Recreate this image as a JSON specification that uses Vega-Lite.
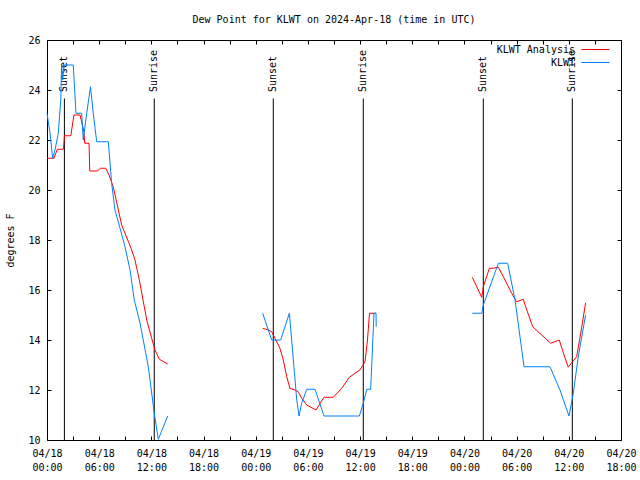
{
  "$schema": "https://vega.github.io/schema/vega-lite/v6.json",
  "autosize": "none",
  "width": 574,
  "height": 400,
  "padding": {"left": 47, "top": 40, "right": 19, "bottom": 40},
  "background": "white",
  "title": {"text": "Dew Point for KLWT on 2024-Apr-18 (time in UTC)", "font": "DejaVu Sans Mono", "fontSize": 10, "fontWeight": "normal", "color": "black", "offset": 10},
  "config": {
    "view": {"stroke": "black", "strokeWidth": 1},
    "axis": {"domain": false, "grid": false, "labelFont": "DejaVu Sans Mono", "labelFontSize": 10, "labelColor": "black", "titleFont": "DejaVu Sans Mono", "titleFontSize": 10, "titleFontWeight": "normal", "titleColor": "black", "tickColor": "black", "tickSize": 4, "tickWidth": 1, "offset": -4}
  },
  "resolve": {"axis": {"x": "independent", "y": "independent"}},
  "datasets": {
    "events": [
      {"t": "2024-04-18T02:00:00Z", "label": "Sunset"},
      {"t": "2024-04-18T12:20:00Z", "label": "Sunrise"},
      {"t": "2024-04-19T02:01:00Z", "label": "Sunset"},
      {"t": "2024-04-19T12:22:00Z", "label": "Sunrise"},
      {"t": "2024-04-20T02:10:00Z", "label": "Sunset"},
      {"t": "2024-04-20T12:24:00Z", "label": "Sunrise"}
    ],
    "obs": [
      {"t": "2024-04-18T00:00:00Z", "v": 21.27, "s": "KLWT Analysis", "g": "a1"},
      {"t": "2024-04-18T00:48:00Z", "v": 21.27, "s": "KLWT Analysis", "g": "a1"},
      {"t": "2024-04-18T01:11:00Z", "v": 21.63, "s": "KLWT Analysis", "g": "a1"},
      {"t": "2024-04-18T01:54:00Z", "v": 21.63, "s": "KLWT Analysis", "g": "a1"},
      {"t": "2024-04-18T02:00:00Z", "v": 22.17, "s": "KLWT Analysis", "g": "a1"},
      {"t": "2024-04-18T02:44:00Z", "v": 22.17, "s": "KLWT Analysis", "g": "a1"},
      {"t": "2024-04-18T03:06:00Z", "v": 23.0, "s": "KLWT Analysis", "g": "a1"},
      {"t": "2024-04-18T03:48:00Z", "v": 23.0, "s": "KLWT Analysis", "g": "a1"},
      {"t": "2024-04-18T04:15:00Z", "v": 22.33, "s": "KLWT Analysis", "g": "a1"},
      {"t": "2024-04-18T04:20:00Z", "v": 21.87, "s": "KLWT Analysis", "g": "a1"},
      {"t": "2024-04-18T04:50:00Z", "v": 21.87, "s": "KLWT Analysis", "g": "a1"},
      {"t": "2024-04-18T04:55:00Z", "v": 20.76, "s": "KLWT Analysis", "g": "a1"},
      {"t": "2024-04-18T05:47:00Z", "v": 20.76, "s": "KLWT Analysis", "g": "a1"},
      {"t": "2024-04-18T06:10:00Z", "v": 20.87, "s": "KLWT Analysis", "g": "a1"},
      {"t": "2024-04-18T06:45:00Z", "v": 20.87, "s": "KLWT Analysis", "g": "a1"},
      {"t": "2024-04-18T07:08:00Z", "v": 20.6, "s": "KLWT Analysis", "g": "a1"},
      {"t": "2024-04-18T07:37:00Z", "v": 20.13, "s": "KLWT Analysis", "g": "a1"},
      {"t": "2024-04-18T08:35:00Z", "v": 18.6, "s": "KLWT Analysis", "g": "a1"},
      {"t": "2024-04-18T09:40:00Z", "v": 17.67, "s": "KLWT Analysis", "g": "a1"},
      {"t": "2024-04-18T10:07:00Z", "v": 17.2, "s": "KLWT Analysis", "g": "a1"},
      {"t": "2024-04-18T10:37:00Z", "v": 16.4, "s": "KLWT Analysis", "g": "a1"},
      {"t": "2024-04-18T11:28:00Z", "v": 14.8, "s": "KLWT Analysis", "g": "a1"},
      {"t": "2024-04-18T12:02:00Z", "v": 14.07, "s": "KLWT Analysis", "g": "a1"},
      {"t": "2024-04-18T12:25:00Z", "v": 13.6, "s": "KLWT Analysis", "g": "a1"},
      {"t": "2024-04-18T12:55:00Z", "v": 13.23, "s": "KLWT Analysis", "g": "a1"},
      {"t": "2024-04-18T13:53:00Z", "v": 13.04, "s": "KLWT Analysis", "g": "a1"},

      {"t": "2024-04-19T00:48:00Z", "v": 14.47, "s": "KLWT Analysis", "g": "a2"},
      {"t": "2024-04-19T01:27:00Z", "v": 14.4, "s": "KLWT Analysis", "g": "a2"},
      {"t": "2024-04-19T01:50:00Z", "v": 14.33, "s": "KLWT Analysis", "g": "a2"},
      {"t": "2024-04-19T02:13:00Z", "v": 14.07, "s": "KLWT Analysis", "g": "a2"},
      {"t": "2024-04-19T02:47:00Z", "v": 13.67, "s": "KLWT Analysis", "g": "a2"},
      {"t": "2024-04-19T03:10:00Z", "v": 13.2, "s": "KLWT Analysis", "g": "a2"},
      {"t": "2024-04-19T03:34:00Z", "v": 12.53, "s": "KLWT Analysis", "g": "a2"},
      {"t": "2024-04-19T03:56:00Z", "v": 12.07, "s": "KLWT Analysis", "g": "a2"},
      {"t": "2024-04-19T04:31:00Z", "v": 12.0, "s": "KLWT Analysis", "g": "a2"},
      {"t": "2024-04-19T04:54:00Z", "v": 11.93, "s": "KLWT Analysis", "g": "a2"},
      {"t": "2024-04-19T05:17:00Z", "v": 11.67, "s": "KLWT Analysis", "g": "a2"},
      {"t": "2024-04-19T05:52:00Z", "v": 11.4, "s": "KLWT Analysis", "g": "a2"},
      {"t": "2024-04-19T06:56:00Z", "v": 11.2, "s": "KLWT Analysis", "g": "a2"},
      {"t": "2024-04-19T07:51:00Z", "v": 11.71, "s": "KLWT Analysis", "g": "a2"},
      {"t": "2024-04-19T08:55:00Z", "v": 11.71, "s": "KLWT Analysis", "g": "a2"},
      {"t": "2024-04-19T09:53:00Z", "v": 12.07, "s": "KLWT Analysis", "g": "a2"},
      {"t": "2024-04-19T10:46:00Z", "v": 12.51, "s": "KLWT Analysis", "g": "a2"},
      {"t": "2024-04-19T11:25:00Z", "v": 12.67, "s": "KLWT Analysis", "g": "a2"},
      {"t": "2024-04-19T11:59:00Z", "v": 12.8, "s": "KLWT Analysis", "g": "a2"},
      {"t": "2024-04-19T12:34:00Z", "v": 13.13, "s": "KLWT Analysis", "g": "a2"},
      {"t": "2024-04-19T12:51:00Z", "v": 14.0, "s": "KLWT Analysis", "g": "a2"},
      {"t": "2024-04-19T13:05:00Z", "v": 15.07, "s": "KLWT Analysis", "g": "a2"},
      {"t": "2024-04-19T13:50:00Z", "v": 15.07, "s": "KLWT Analysis", "g": "a2"},

      {"t": "2024-04-20T00:54:00Z", "v": 16.51, "s": "KLWT Analysis", "g": "a3"},
      {"t": "2024-04-20T01:59:00Z", "v": 15.71, "s": "KLWT Analysis", "g": "a3"},
      {"t": "2024-04-20T02:10:00Z", "v": 16.13, "s": "KLWT Analysis", "g": "a3"},
      {"t": "2024-04-20T02:52:00Z", "v": 16.87, "s": "KLWT Analysis", "g": "a3"},
      {"t": "2024-04-20T03:19:00Z", "v": 16.87, "s": "KLWT Analysis", "g": "a3"},
      {"t": "2024-04-20T03:54:00Z", "v": 16.91, "s": "KLWT Analysis", "g": "a3"},
      {"t": "2024-04-20T04:40:00Z", "v": 16.4, "s": "KLWT Analysis", "g": "a3"},
      {"t": "2024-04-20T05:26:00Z", "v": 15.87, "s": "KLWT Analysis", "g": "a3"},
      {"t": "2024-04-20T06:00:00Z", "v": 15.53, "s": "KLWT Analysis", "g": "a3"},
      {"t": "2024-04-20T06:46:00Z", "v": 15.63, "s": "KLWT Analysis", "g": "a3"},
      {"t": "2024-04-20T07:10:00Z", "v": 15.2, "s": "KLWT Analysis", "g": "a3"},
      {"t": "2024-04-20T07:51:00Z", "v": 14.53, "s": "KLWT Analysis", "g": "a3"},
      {"t": "2024-04-20T08:53:00Z", "v": 14.2, "s": "KLWT Analysis", "g": "a3"},
      {"t": "2024-04-20T09:55:00Z", "v": 13.87, "s": "KLWT Analysis", "g": "a3"},
      {"t": "2024-04-20T10:54:00Z", "v": 14.0, "s": "KLWT Analysis", "g": "a3"},
      {"t": "2024-04-20T11:27:00Z", "v": 13.4, "s": "KLWT Analysis", "g": "a3"},
      {"t": "2024-04-20T11:56:00Z", "v": 12.91, "s": "KLWT Analysis", "g": "a3"},
      {"t": "2024-04-20T12:20:00Z", "v": 13.09, "s": "KLWT Analysis", "g": "a3"},
      {"t": "2024-04-20T12:54:00Z", "v": 13.33, "s": "KLWT Analysis", "g": "a3"},
      {"t": "2024-04-20T13:22:00Z", "v": 14.27, "s": "KLWT Analysis", "g": "a3"},
      {"t": "2024-04-20T13:56:00Z", "v": 15.49, "s": "KLWT Analysis", "g": "a3"},

      {"t": "2024-04-18T00:00:00Z", "v": 23.07, "s": "KLWT", "g": "b1"},
      {"t": "2024-04-18T00:21:00Z", "v": 22.27, "s": "KLWT", "g": "b1"},
      {"t": "2024-04-18T00:39:00Z", "v": 21.27, "s": "KLWT", "g": "b1"},
      {"t": "2024-04-18T00:55:00Z", "v": 21.6, "s": "KLWT", "g": "b1"},
      {"t": "2024-04-18T01:18:00Z", "v": 22.27, "s": "KLWT", "g": "b1"},
      {"t": "2024-04-18T01:35:00Z", "v": 23.6, "s": "KLWT", "g": "b1"},
      {"t": "2024-04-18T01:41:00Z", "v": 25.0, "s": "KLWT", "g": "b1"},
      {"t": "2024-04-18T01:48:00Z", "v": 24.4, "s": "KLWT", "g": "b1"},
      {"t": "2024-04-18T01:57:00Z", "v": 25.0, "s": "KLWT", "g": "b1"},
      {"t": "2024-04-18T03:01:00Z", "v": 25.0, "s": "KLWT", "g": "b1"},
      {"t": "2024-04-18T03:20:00Z", "v": 23.07, "s": "KLWT", "g": "b1"},
      {"t": "2024-04-18T03:59:00Z", "v": 23.07, "s": "KLWT", "g": "b1"},
      {"t": "2024-04-18T04:10:00Z", "v": 22.0, "s": "KLWT", "g": "b1"},
      {"t": "2024-04-18T04:34:00Z", "v": 23.07, "s": "KLWT", "g": "b1"},
      {"t": "2024-04-18T05:00:00Z", "v": 24.13, "s": "KLWT", "g": "b1"},
      {"t": "2024-04-18T05:19:00Z", "v": 23.07, "s": "KLWT", "g": "b1"},
      {"t": "2024-04-18T05:43:00Z", "v": 21.93, "s": "KLWT", "g": "b1"},
      {"t": "2024-04-18T07:03:00Z", "v": 21.93, "s": "KLWT", "g": "b1"},
      {"t": "2024-04-18T07:26:00Z", "v": 20.27, "s": "KLWT", "g": "b1"},
      {"t": "2024-04-18T07:49:00Z", "v": 19.2, "s": "KLWT", "g": "b1"},
      {"t": "2024-04-18T08:24:00Z", "v": 18.47, "s": "KLWT", "g": "b1"},
      {"t": "2024-04-18T08:58:00Z", "v": 17.73, "s": "KLWT", "g": "b1"},
      {"t": "2024-04-18T09:33:00Z", "v": 16.8, "s": "KLWT", "g": "b1"},
      {"t": "2024-04-18T10:02:00Z", "v": 15.6, "s": "KLWT", "g": "b1"},
      {"t": "2024-04-18T10:42:00Z", "v": 14.67, "s": "KLWT", "g": "b1"},
      {"t": "2024-04-18T11:39:00Z", "v": 12.93, "s": "KLWT", "g": "b1"},
      {"t": "2024-04-18T12:20:00Z", "v": 11.07, "s": "KLWT", "g": "b1"},
      {"t": "2024-04-18T12:48:00Z", "v": 10.03, "s": "KLWT", "g": "b1"},
      {"t": "2024-04-18T13:53:00Z", "v": 10.96, "s": "KLWT", "g": "b1"},

      {"t": "2024-04-19T00:48:00Z", "v": 15.07, "s": "KLWT", "g": "b2"},
      {"t": "2024-04-19T01:50:00Z", "v": 14.0, "s": "KLWT", "g": "b2"},
      {"t": "2024-04-19T02:52:00Z", "v": 14.0, "s": "KLWT", "g": "b2"},
      {"t": "2024-04-19T03:52:00Z", "v": 15.07, "s": "KLWT", "g": "b2"},
      {"t": "2024-04-19T04:08:00Z", "v": 14.0, "s": "KLWT", "g": "b2"},
      {"t": "2024-04-19T04:43:00Z", "v": 11.6, "s": "KLWT", "g": "b2"},
      {"t": "2024-04-19T04:59:00Z", "v": 10.96, "s": "KLWT", "g": "b2"},
      {"t": "2024-04-19T05:17:00Z", "v": 11.47, "s": "KLWT", "g": "b2"},
      {"t": "2024-04-19T05:52:00Z", "v": 12.03, "s": "KLWT", "g": "b2"},
      {"t": "2024-04-19T06:49:00Z", "v": 12.03, "s": "KLWT", "g": "b2"},
      {"t": "2024-04-19T07:51:00Z", "v": 10.96, "s": "KLWT", "g": "b2"},
      {"t": "2024-04-19T11:55:00Z", "v": 10.96, "s": "KLWT", "g": "b2"},
      {"t": "2024-04-19T12:22:00Z", "v": 11.47, "s": "KLWT", "g": "b2"},
      {"t": "2024-04-19T12:46:00Z", "v": 12.03, "s": "KLWT", "g": "b2"},
      {"t": "2024-04-19T13:13:00Z", "v": 12.03, "s": "KLWT", "g": "b2"},
      {"t": "2024-04-19T13:36:00Z", "v": 15.07, "s": "KLWT", "g": "b2"},
      {"t": "2024-04-19T13:50:00Z", "v": 15.07, "s": "KLWT", "g": "b2"},
      {"t": "2024-04-19T13:51:00Z", "v": 14.53, "s": "KLWT", "g": "b2"},

      {"t": "2024-04-20T00:54:00Z", "v": 15.07, "s": "KLWT", "g": "b3"},
      {"t": "2024-04-20T01:59:00Z", "v": 15.07, "s": "KLWT", "g": "b3"},
      {"t": "2024-04-20T02:10:00Z", "v": 15.4, "s": "KLWT", "g": "b3"},
      {"t": "2024-04-20T03:54:00Z", "v": 17.07, "s": "KLWT", "g": "b3"},
      {"t": "2024-04-20T04:58:00Z", "v": 17.07, "s": "KLWT", "g": "b3"},
      {"t": "2024-04-20T05:49:00Z", "v": 15.6, "s": "KLWT", "g": "b3"},
      {"t": "2024-04-20T06:51:00Z", "v": 12.93, "s": "KLWT", "g": "b3"},
      {"t": "2024-04-20T09:50:00Z", "v": 12.93, "s": "KLWT", "g": "b3"},
      {"t": "2024-04-20T10:59:00Z", "v": 12.0, "s": "KLWT", "g": "b3"},
      {"t": "2024-04-20T12:01:00Z", "v": 10.96, "s": "KLWT", "g": "b3"},
      {"t": "2024-04-20T12:31:00Z", "v": 11.87, "s": "KLWT", "g": "b3"},
      {"t": "2024-04-20T13:05:00Z", "v": 13.33, "s": "KLWT", "g": "b3"},
      {"t": "2024-04-20T13:56:00Z", "v": 15.0, "s": "KLWT", "g": "b3"}
    ]
  },
  "layer": [
    {
      "data": {"name": "events"},
      "mark": {"type": "rule", "color": "black", "strokeWidth": 1},
      "encoding": {
        "x": {"field": "t", "type": "temporal",
              "scale": {"type": "utc", "domain": [{"year": 2024, "month": 4, "date": 18, "hours": 0, "utc": true}, {"year": 2024, "month": 4, "date": 20, "hours": 18, "utc": true}]},
              "axis": {"orient": "bottom", "title": null, "tickCount": 33, "labelOverlap": false, "labelFlush": false, "labelPadding": 8, "labelLineHeight": 14,
                       "labelExpr": "utchours(datum.value) % 6 == 0 ? [utcFormat(datum.value, '%m/%d'), utcFormat(datum.value, '%H:%M')] : ''"}},
        "y": {"datum": 10, "type": "quantitative",
              "scale": {"domain": [10, 26], "zero": false},
              "axis": {"orient": "left", "title": "degrees F", "values": [10, 12, 14, 16, 18, 20, 22, 24, 26], "labelPadding": 7, "titlePadding": 12}},
        "y2": {"datum": 23.66}
      }
    },
    {
      "data": {"name": "events"},
      "mark": {"type": "text", "angle": 270, "align": "left", "baseline": "middle", "font": "DejaVu Sans Mono", "fontSize": 10, "color": "black"},
      "encoding": {
        "x": {"field": "t", "type": "temporal",
              "axis": {"orient": "top", "title": null, "tickCount": 33, "labels": false}},
        "y": {"datum": 23.92, "type": "quantitative",
              "axis": {"orient": "right", "title": null, "values": [10, 12, 14, 16, 18, 20, 22, 24, 26], "labels": false}},
        "text": {"field": "label"}
      }
    },
    {
      "data": {"name": "obs"},
      "mark": {"type": "line", "strokeWidth": 1},
      "encoding": {
        "x": {"field": "t", "type": "temporal", "axis": null},
        "y": {"field": "v", "type": "quantitative", "axis": null},
        "detail": {"field": "g"},
        "color": {"field": "s", "type": "nominal",
                  "scale": {"domain": ["KLWT Analysis", "KLWT"], "range": ["#ff0000", "#0080ff"]},
                  "legend": {"orient": "none", "legendX": 534, "legendY": 2, "title": null, "symbolType": "M-1,0H3", "symbolSize": 196, "symbolStrokeWidth": 1, "symbolFillColor": "transparent", "labelAlign": "right", "labelOffset": -21, "rowPadding": 0, "padding": 0, "labelFont": "DejaVu Sans Mono", "labelFontSize": 10, "labelColor": "black"}}
      }
    }
  ]
}
